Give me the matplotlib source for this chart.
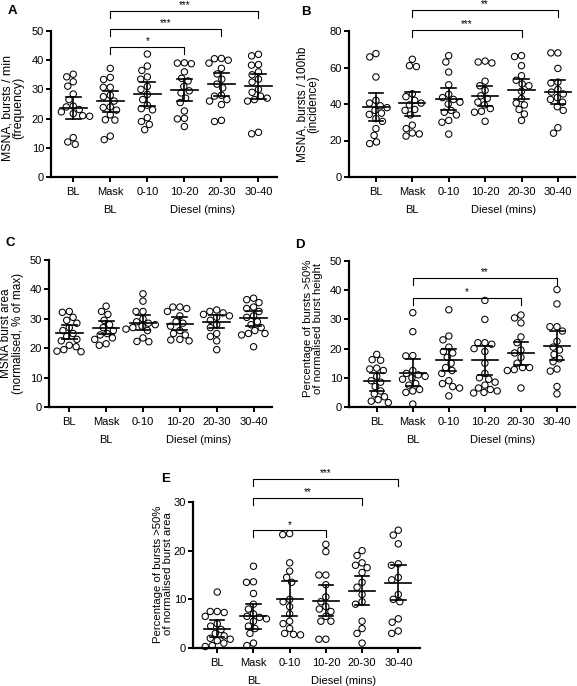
import numpy as np
import matplotlib
matplotlib.use('Agg')
import matplotlib.pyplot as plt

plt.rcParams['font.family'] = ['Liberation Sans', 'DejaVu Sans']

groups = ['BL', 'Mask', '0-10', '10-20', '20-30', '30-40']

# A - burst frequency
freq_vals = [
    [35.2, 34.3, 32.6, 31.1, 28.4, 26.5, 24.3, 24.0, 23.1, 22.3, 21.7, 21.0, 20.8, 13.5, 12.0, 11.2],
    [37.2, 34.1, 33.4, 30.7, 30.7, 28.0, 27.5, 26.0, 24.0, 23.8, 22.9, 21.3, 19.6, 19.5, 14.0, 12.8],
    [42.1, 38.0, 36.5, 34.3, 33.5, 31.0, 30.0, 28.3, 26.5, 24.6, 23.4, 23.0, 20.3, 19.0, 18.0, 16.2],
    [39.1, 38.8, 39.0, 36.0, 33.8, 32.9, 31.0, 29.5, 28.8, 27.0, 25.5, 22.6, 20.1, 19.9, 17.3],
    [40.6, 40.0, 39.0, 40.5, 37.2, 35.3, 33.5, 31.8, 30.5, 28.0, 27.7, 26.5, 26.0, 24.8, 19.0, 19.4],
    [42.0, 41.5, 38.5, 38.3, 36.0, 35.0, 33.5, 32.5, 30.0, 29.0, 27.7, 27.0, 26.5, 26.0, 14.8, 15.3],
]
freq_mean = [23.5, 26.0, 28.3, 29.8, 31.8, 31.2]
freq_lo = [19.7, 22.3, 24.3, 26.0, 27.7, 26.8]
freq_hi = [27.5, 29.4, 32.4, 33.5, 35.5, 35.2]

# B - burst incidence
inc_vals = [
    [67.6, 65.8, 54.8, 42.0, 40.5, 39.0, 38.0, 36.5, 35.0, 34.3, 32.0, 30.5, 26.5, 22.8, 18.3, 19.2],
    [64.5, 61.0, 60.5, 45.6, 44.0, 42.0, 40.5, 39.5, 37.0, 36.5, 34.0, 28.4, 26.5, 24.1, 23.6, 22.4],
    [66.5, 63.0, 57.5, 50.5, 45.3, 43.5, 42.5, 41.0, 40.0, 36.5, 35.5, 34.0, 31.0, 30.0, 23.5],
    [63.0, 62.5, 63.5, 52.5, 50.0, 47.5, 44.5, 43.0, 41.0, 39.5, 37.5, 36.0, 35.5, 30.5],
    [66.5, 66.0, 61.0, 55.5, 53.0, 51.0, 50.0, 47.0, 43.0, 40.5, 39.5, 37.0, 34.5, 31.0],
    [68.0, 68.0, 59.5, 52.0, 51.5, 48.0, 46.5, 45.5, 43.5, 42.5, 41.0, 38.5, 36.5, 27.0, 24.0],
]
inc_mean = [38.2, 40.3, 43.0, 44.5, 47.8, 46.5]
inc_lo = [30.5, 33.5, 36.8, 39.0, 42.5, 40.0]
inc_hi = [45.8, 46.8, 49.0, 50.0, 53.5, 53.0]

# C - burst area
area_vals = [
    [32.2, 32.5, 30.5, 29.5, 28.5, 27.0, 26.0, 25.0, 24.0, 23.0, 22.5, 21.0, 20.5, 19.5, 19.0, 18.8],
    [34.3, 32.5, 31.5, 29.5, 28.0, 27.0, 26.0, 25.0, 24.5, 23.5, 23.0, 21.5, 21.0],
    [38.5, 36.0, 32.5, 32.5, 30.0, 29.0, 28.5, 28.0, 27.5, 27.0, 26.5, 26.0, 23.5, 22.3, 22.2],
    [34.0, 33.5, 34.0, 32.5, 31.0, 29.0, 28.5, 27.5, 26.0, 25.0, 24.5, 23.0, 22.5, 22.8],
    [33.0, 32.5, 32.0, 31.5, 31.0, 30.5, 29.5, 28.0, 27.0, 25.0, 24.0, 22.5, 19.5],
    [37.0, 36.5, 35.5, 34.0, 33.5, 32.5, 31.0, 30.5, 29.0, 28.0, 27.0, 26.0, 25.0, 25.0, 24.5, 20.5],
]
area_mean = [25.3, 27.0, 28.7, 28.3, 29.0, 30.2]
area_lo = [23.2, 25.0, 26.3, 26.3, 27.0, 27.7]
area_hi = [27.8, 29.2, 31.2, 30.5, 31.3, 32.7]

# D - % bursts > 50% of normalised height
height_vals = [
    [18.0, 16.0, 16.2, 13.3, 12.5, 13.0, 10.5, 9.0, 8.5, 7.0, 5.5, 4.5, 3.5, 2.5, 2.0, 1.5],
    [32.3, 25.8, 17.5, 17.6, 12.5, 11.5, 11.0, 10.5, 10.0, 9.5, 8.0, 7.5, 6.0, 5.5, 5.0, 1.0],
    [33.3, 24.3, 23.0, 20.5, 19.0, 18.5, 17.0, 15.0, 13.5, 12.5, 11.5, 9.0, 8.0, 7.0, 6.5, 3.8],
    [36.5, 30.0, 22.0, 22.0, 21.5, 20.0, 19.0, 15.0, 11.5, 10.0, 9.5, 8.5, 7.5, 6.5, 6.0, 5.5, 5.0, 4.8],
    [31.5, 30.5, 28.8, 24.0, 22.0, 19.5, 18.5, 17.0, 15.0, 13.5, 13.5, 12.8, 12.5, 6.5],
    [40.2, 35.3, 27.5, 27.5, 26.0, 22.5, 20.5, 19.5, 18.0, 16.5, 15.5, 13.0, 12.3, 7.0, 4.5],
]
height_mean = [8.8, 11.8, 16.0, 16.2, 18.5, 21.0]
height_lo = [5.5, 7.2, 12.3, 11.0, 14.5, 16.0]
height_hi = [11.8, 16.3, 19.8, 21.0, 22.3, 26.0]

# E - % bursts > 50% of normalised area
big_vals = [
    [11.5, 7.5, 7.3, 7.5, 6.5, 5.0, 4.5, 3.8, 3.0, 2.5, 2.0, 1.8, 1.5, 1.0, 0.5, 0.3],
    [16.8, 13.6, 13.5, 11.2, 9.0, 8.0, 7.0, 6.5, 6.3, 6.0, 5.5, 4.5, 4.0, 3.0, 1.0, 0.5],
    [23.3, 23.5, 17.5, 15.8, 14.5, 13.5, 10.0, 9.5, 8.5, 7.0, 5.5, 5.0, 4.0, 3.0, 2.8, 2.7],
    [21.3, 19.8, 15.0, 15.0, 13.0, 10.5, 9.5, 8.5, 8.0, 7.5, 6.5, 5.5, 5.5, 1.8, 1.8],
    [20.0, 19.0, 17.5, 17.0, 16.5, 15.5, 13.5, 12.5, 11.0, 9.5, 9.0, 5.5, 4.0, 3.0, 1.0],
    [24.2, 23.2, 21.4, 17.3, 17.0, 14.5, 14.0, 11.0, 10.0, 9.5, 6.0, 5.3, 3.5, 3.0],
]
big_mean = [4.0, 6.5, 10.0, 9.7, 11.8, 13.3]
big_lo = [2.3, 4.0, 6.5, 6.5, 8.8, 9.8]
big_hi = [5.8, 9.0, 13.7, 13.0, 14.8, 17.0]

W, H = 577, 686
fig = plt.figure(figsize=(W / 100, H / 100), dpi=100)


def swarm(vals, ypx, d=7.0):
    # simple beeswarm in pixel units, returns x offsets in pixels
    y = np.asarray(vals) * ypx
    xs = np.zeros(len(y))
    done = []
    for i in np.argsort(-y):
        cands = [0.0]
        for j in done:
            dy = y[i] - y[j]
            if abs(dy) < d:
                w = np.sqrt(d * d - dy * dy)
                cands += [xs[j] - w, xs[j] + w]
        cands.sort(key=lambda c: (abs(c), c))
        for c in cands:
            ok = True
            for j in done:
                if (c - xs[j]) ** 2 + (y[i] - y[j]) ** 2 < d * d - 1e-6:
                    ok = False
                    break
            if ok:
                xs[i] = c
                break
        done.append(i)
    return xs


def panel(box, xlim, ymax, ystep, vals, mean, lo, hi, ylabel, ylab_xy, ylab_fs, letter, let_xy, brackets):
    l, t, r, b = box
    ax = fig.add_axes([l / W, 1 - b / H, (r - l) / W, (b - t) / H])
    ax.set_xlim(*xlim)
    ax.set_ylim(0, ymax)
    xpx = (r - l) / (xlim[1] - xlim[0])
    ypx = (b - t) / ymax

    for i, v in enumerate(vals):
        off = swarm(v, ypx) / xpx
        ax.scatter(i + off, v, s=21, facecolors='none', edgecolors='k',
                   linewidths=0.75, clip_on=False, zorder=3)
        ax.plot([i - 0.36, i + 0.36], [mean[i], mean[i]], color='k', lw=1.2, zorder=4)
        ax.plot([i, i], [lo[i], hi[i]], color='k', lw=1.2, zorder=4)
        ax.plot([i - 0.2, i + 0.2], [lo[i], lo[i]], color='k', lw=1.2, zorder=4)
        ax.plot([i - 0.2, i + 0.2], [hi[i], hi[i]], color='k', lw=1.2, zorder=4)

    # significance brackets from Mask
    arm = 7 / ypx
    for tgt, yb, stars in brackets:
        ax.plot([1, 1, tgt, tgt], [yb - arm, yb, yb, yb - arm], color='k', lw=0.8, clip_on=False)
        ax.text((1 + tgt) / 2, yb + 0.6 / ypx, stars, ha='center', va='bottom', fontsize=7)

    ax.spines['top'].set_visible(False)
    ax.spines['right'].set_visible(False)
    for s in ['left', 'bottom']:
        ax.spines[s].set_linewidth(1.6)
    ax.set_yticks(np.arange(0, ymax + 1, ystep))
    ax.set_xticks(range(len(groups)))
    ax.set_xticklabels(groups)
    ax.tick_params(axis='both', width=1.4, length=3.5, labelsize=8)
    ax.tick_params(axis='x', pad=4)
    ax.tick_params(axis='y', pad=1.5)

    # second line of the x labels
    ax.annotate('BL', xy=(1, 0), xycoords=('data', 'axes fraction'), xytext=(0, -33),
                textcoords='offset pixels', ha='center', va='center', fontsize=8)
    ax.annotate('Diesel (mins)', xy=(3.5, 0), xycoords=('data', 'axes fraction'), xytext=(0, -33),
                textcoords='offset pixels', ha='center', va='center', fontsize=8)

    fig.text(ylab_xy[0] / W, 1 - ylab_xy[1] / H, ylabel, rotation=90, ha='center', va='center',
             fontsize=ylab_fs, linespacing=0.92, multialignment='center')
    fig.text(let_xy[0] / W, 1 - let_xy[1] / H, letter, ha='center', va='center',
             fontsize=9.5, fontweight='bold')
    return ax


panel((51, 31, 277, 177), (-0.6, 5.5), 50, 10, freq_vals, freq_mean, freq_lo, freq_hi,
      'MSNA, bursts / min\n(frequency)', (13, 108), 8.8, 'A', (12, 11),
      [(3, 44.5, '*'), (4, 50.7, '***'), (5, 56.8, '***')])

panel((349, 31, 575, 177), (-0.74, 5.47), 80, 20, inc_vals, inc_mean, inc_lo, inc_hi,
      'MSNA, bursts / 100hb\n(incidence)', (308, 104), 8.5, 'B', (306, 12),
      [(4, 80.5, '***'), (5, 91.5, '**')])

panel((49, 260, 272, 407), (-0.55, 5.5), 50, 10, area_vals, area_mean, area_lo, area_hi,
      'MSNA burst area\n(normalised, % of max)', (12, 333), 8.5, 'C', (10, 243), [])

panel((349, 261, 575, 407), (-0.77, 5.5), 50, 10, height_vals, height_mean, height_lo, height_hi,
      'Percentage of bursts >50%\nof normalised burst height', (313, 328), 8.2, 'D', (300, 245),
      [(4, 37.3, '*'), (5, 44.2, '**')])

panel((193, 502, 420, 648), (-0.67, 5.6), 30, 10, big_vals, big_mean, big_lo, big_hi,
      'Percentage of bursts >50%\nof normalised burst area', (163, 574), 8.2, 'E', (166, 479),
      [(3, 24.2, '*'), (4, 30.8, '**'), (5, 34.7, '***')])

fig.savefig('out.png', dpi=100)
